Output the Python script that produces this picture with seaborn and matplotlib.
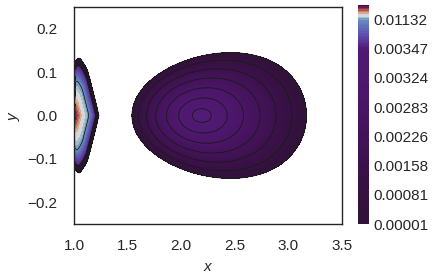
import numpy as np
import matplotlib
matplotlib.use("Agg")
import matplotlib.pyplot as plt
import matplotlib.tri as mtri
import seaborn as sns

sns.set_theme(style="white")
plt.rcParams["font.family"] = ["Liberation Sans", "DejaVu Sans"]
plt.rcParams["mathtext.fontset"] = "custom"
plt.rcParams["mathtext.it"] = "Liberation Sans:italic"
plt.rcParams["mathtext.rm"] = "Liberation Sans"

# --------- values -------------------------------
# contour line levels == colorbar ticks
line_levels = [0.00001, 0.00081, 0.00158, 0.00226, 0.00283, 0.00324, 0.00347, 0.01132]
field_max = 0.039        # top of the colour scale (crescent peak at the wall)
egg_peak = 0.003512      # value on the axis of the egg

# egg shaped region
egg_axis_x = 2.19
egg_left, egg_right = 1.54, 3.17
egg_height = 0.145
egg_tri = -0.13

# crescent at the x=1 wall, upper half outline (offset from wall, y)
cres_dx = [0.000, 0.015, 0.030, 0.047, 0.060, 0.080, 0.100, 0.118, 0.131, 0.152, 0.172, 0.193, 0.213, 0.232]
cres_y = [0.119, 0.126, 0.130, 0.1326, 0.130, 0.124, 0.116, 0.107, 0.100, 0.080, 0.060, 0.040, 0.020, 0.000]
cres_edge_slope = 0.7    # steep fall-off at the crescent edge

xticks = [1.0, 1.5, 2.0, 2.5, 3.0, 3.5]
yticks = [-0.2, -0.1, 0.0, 0.1, 0.2]


# --------- fields ----------
def egg_field(n_rho=70, n_th=240):
    rho = np.linspace(0, 1, n_rho)[1:]
    th = np.linspace(0, 2 * np.pi, n_th, endpoint=False)
    R, T = np.meshgrid(rho, th)
    xc_b = (egg_left + egg_right) / 2
    a = (egg_right - egg_left) / 2
    xc = egg_axis_x + (xc_b - egg_axis_x) * R**2
    x = xc + R * a * np.cos(T + egg_tri * R * np.sin(T))
    y = R * egg_height * np.sin(T)
    z = egg_peak * (1 - R**2)
    x = np.append(x.ravel(), egg_axis_x)
    y = np.append(y.ravel(), 0.0)
    z = np.append(z.ravel(), egg_peak)
    return x, y, z


def crescent_field(n_rho=90, n_t=200):
    dx = np.array(cres_dx[::-1] + cres_dx[1:])
    yy = np.array([-v for v in cres_y[::-1]] + cres_y[1:])
    s = np.arange(len(dx))
    t = np.linspace(0, s[-1], n_t)
    bx, by = np.interp(t, s, dx), np.interp(t, s, yy)
    rho = np.linspace(0, 1, n_rho)[1:]
    R, BX = np.meshgrid(rho, bx)
    _, BY = np.meshgrid(rho, by)
    x = 1.0 + R * BX
    y = R * BY
    q = 1 - R
    z = field_max * q * (cres_edge_slope + (1 - cres_edge_slope) * q**3)
    x = np.append(x.ravel(), 1.0)
    y = np.append(y.ravel(), 0.0)
    z = np.append(z.ravel(), field_max)
    return x, y, z


def triangulate(x, y):
    t = mtri.Triangulation(x, y * 6)
    return mtri.Triangulation(x, y, t.triangles)


k = 20
fill_levels = []
for lo, hi in zip(line_levels[:-1], line_levels[1:]):
    fill_levels.extend(np.linspace(lo, hi, k + 1)[:-1])
fill_levels.extend(np.linspace(line_levels[-1], field_max, k // 2 + 1))
fill_levels = np.array(fill_levels)

fig = plt.figure(figsize=(4.37, 2.80), dpi=100)
ax = fig.add_axes([74 / 437, 56 / 280, 268 / 437, 217 / 280])
cax = fig.add_axes([358 / 437, 56 / 280, 11 / 437, 219 / 280])

cmap = plt.get_cmap("twilight_shifted")
for xs, ys, zs in (egg_field(), crescent_field()):
    tri = triangulate(xs, ys)
    cs = ax.tricontourf(tri, zs, levels=fill_levels, cmap=cmap)
    ax.tricontour(tri, zs, levels=line_levels, colors="k", linewidths=0.6)

ax.set_xlim(1.0, 3.5)
ax.set_ylim(-0.25, 0.25)
ax.set_xticks(xticks)
ax.set_yticks(yticks)
ax.tick_params(axis="x", labelsize=11, size=0, pad=10.5, colors=".15")
ax.tick_params(axis="y", labelsize=11, size=0, pad=12, colors=".15")
for sp in ax.spines.values():
    sp.set_color(".15")
    sp.set_linewidth(1.0)
ax.set_xlabel("$x$", fontsize=11, labelpad=5, color=".15")
ax.set_ylabel("$y$", fontsize=11, labelpad=4, color=".15")

cbar = fig.colorbar(cs, cax=cax, ticks=line_levels)
cbar.ax.set_yticklabels([f"{v:.5f}" for v in line_levels])
cbar.ax.tick_params(size=0, pad=3, labelsize=11, colors=".15")
cbar.outline.set_visible(False)

fig.savefig("out.png", dpi=100)
